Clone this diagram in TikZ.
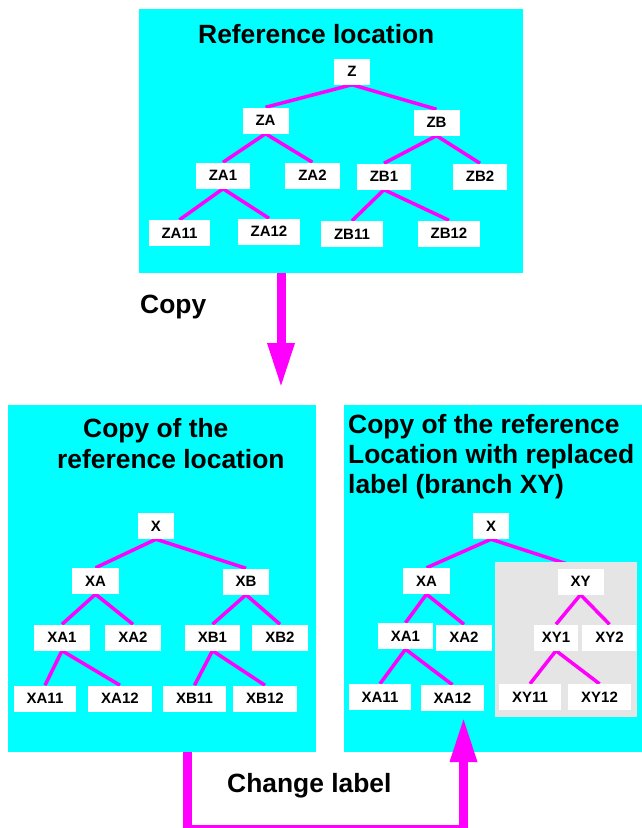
\documentclass[tikz,border=0pt]{standalone}
\usepackage{fontspec}
\setmainfont{Liberation Sans}
\usetikzlibrary{arrows.meta}

\definecolor{boxcyan}{HTML}{00FFFF}
\definecolor{linkmag}{HTML}{FF00FF}
\definecolor{branchgrey}{HTML}{E5E5E5}

\pgfdeclarelayer{panels}
\pgfdeclarelayer{underlinks}
\pgfdeclarelayer{branch}
\pgfdeclarelayer{links}
\pgfsetlayers{panels,underlinks,branch,links,main}

\tikzset{
  panel/.style={fill=boxcyan, draw=none, inner sep=0pt},
  greypanel/.style={fill=branchgrey, draw=none, inner sep=0pt},
  tn/.style={fill=white, draw=none, inner xsep=13pt, inner ysep=0pt,
    minimum height=26pt, font=\fontsize{15}{18}\selectfont\bfseries},
  title/.style={inner sep=0pt, anchor=base west,
    font=\fontsize{26.4}{30}\selectfont\bfseries},
  link/.style={draw=linkmag, line width=3.5pt},
  fat/.style={draw=linkmag, line width=9pt, line join=miter,
    -{Triangle[width=25pt,length=45pt]}}
}

\begin{document}
\begin{tikzpicture}[x=1pt,y=-1pt]
\useasboundingbox (0,0) rectangle (642,828);

% panels
\begin{pgfonlayer}{panels}
  \node[panel, minimum width=384pt, minimum height=263.5pt] (topbox) at (331,140.75) {};
  \node[panel, minimum width=308pt, minimum height=347pt] (lbox) at (162,578.5) {};
  \node[panel, minimum width=298pt, minimum height=347pt] (rbox) at (493,578.5) {};
\end{pgfonlayer}
\begin{pgfonlayer}{branch}
  \node[greypanel, minimum width=142pt, minimum height=155pt] (grey) at (566,639.5) {};
\end{pgfonlayer}

% titles and labels
\node[title] (ttop) at (198,43) {Reference location};
\node[title] (tl1) at (83,437) {Copy of the};
\node[title] (tl2) at (57,468) {reference location};
\node[title] (tr1) at (348,433) {Copy of the reference};
\node[title] (tr2) at (348,463) {Location with replaced};
\node[title] (tr3) at (348,493) {label (branch XY)};
\node[title] (tcopy) at (140,313) {Copy};
\node[title] (tchange) at (227,792) {Change label};

% reference tree
\node[tn] (z) at (352,71.5) {Z};
\node[tn] (za) at (265.5,120.5) {ZA};
\node[tn] (zb) at (436.5,122.5) {ZB};
\node[tn] (za1) at (223,175.5) {ZA1};
\node[tn] (za2) at (312.5,175.5) {ZA2};
\node[tn] (zb1) at (384,176.5) {ZB1};
\node[tn] (zb2) at (480,176.5) {ZB2};
\node[tn] (za11) at (179.5,233) {ZA11};
\node[tn] (za12) at (269,231.5) {ZA12};
\node[tn] (zb11) at (352,234) {ZB11};
\node[tn] (zb12) at (449,233.5) {ZB12};

% copied tree
\node[tn] (lx) at (156,526) {X};
\node[tn] (lxa) at (95.5,581) {XA};
\node[tn] (lxb) at (246,581.5) {XB};
\node[tn] (lxa1) at (62,637.5) {XA1};
\node[tn] (lxa2) at (133,637.5) {XA2};
\node[tn] (lxb1) at (212.5,637.5) {XB1};
\node[tn] (lxb2) at (280,637.5) {XB2};
\node[tn] (lxa11) at (45,698.5) {XA11};
\node[tn] (lxa12) at (120,698.5) {XA12};
\node[tn] (lxb11) at (194.5,698.5) {XB11};
\node[tn] (lxb12) at (265,698.5) {XB12};

% copied tree with the relabelled branch
\node[tn] (rx) at (491,526) {X};
\node[tn] (rxa) at (426.5,581) {XA};
\node[tn] (rxy) at (580.5,581.5) {XY};
\node[tn] (rxa1) at (405.5,636) {XA1};
\node[tn] (rxa2) at (464,637.5) {XA2};
\node[tn, inner xsep=8pt] (rxy1) at (556,637.5) {XY1};
\node[tn] (rxy2) at (609.5,637.5) {XY2};
\node[tn] (rxa11) at (380,697) {XA11};
\node[tn] (rxa12) at (452.5,698) {XA12};
\node[tn] (rxy11) at (530,697) {XY11};
\node[tn] (rxy12) at (599.5,697) {XY12};

% tree links
\begin{pgfonlayer}{underlinks}
  \draw[link] (rx.south) -- (rxy.north);
\end{pgfonlayer}
\begin{pgfonlayer}{links}
  \foreach \p/\c in {z/za, z/zb, za/za1, za/za2, zb/zb1, zb/zb2,
                     za1/za11, za1/za12, zb1/zb11, zb1/zb12,
                     lx/lxa, lx/lxb, lxa/lxa1, lxa/lxa2, lxb/lxb1, lxb/lxb2,
                     lxa1/lxa11, lxa1/lxa12, lxb1/lxb11, lxb1/lxb12,
                     rx/rxa, rxa/rxa1, rxa/rxa2, rxy/rxy1, rxy/rxy2,
                     rxa1/rxa11, rxa1/rxa12, rxy1/rxy11, rxy1/rxy12}
    \draw[link] (\p.south) -- (\c.north);
\end{pgfonlayer}

% copy arrow
\coordinate (copytip) at (281,388);
\draw[fat] (topbox.south -| copytip) -- (copytip);

% change label arrow
\coordinate (chcorner) at (187.5,829.5);
\coordinate (chtip) at (463.5,717);
\draw[fat] (lbox.south -| chcorner) -- (chcorner) -- (chcorner -| chtip) -- (chtip);
\end{tikzpicture}
\end{document}
